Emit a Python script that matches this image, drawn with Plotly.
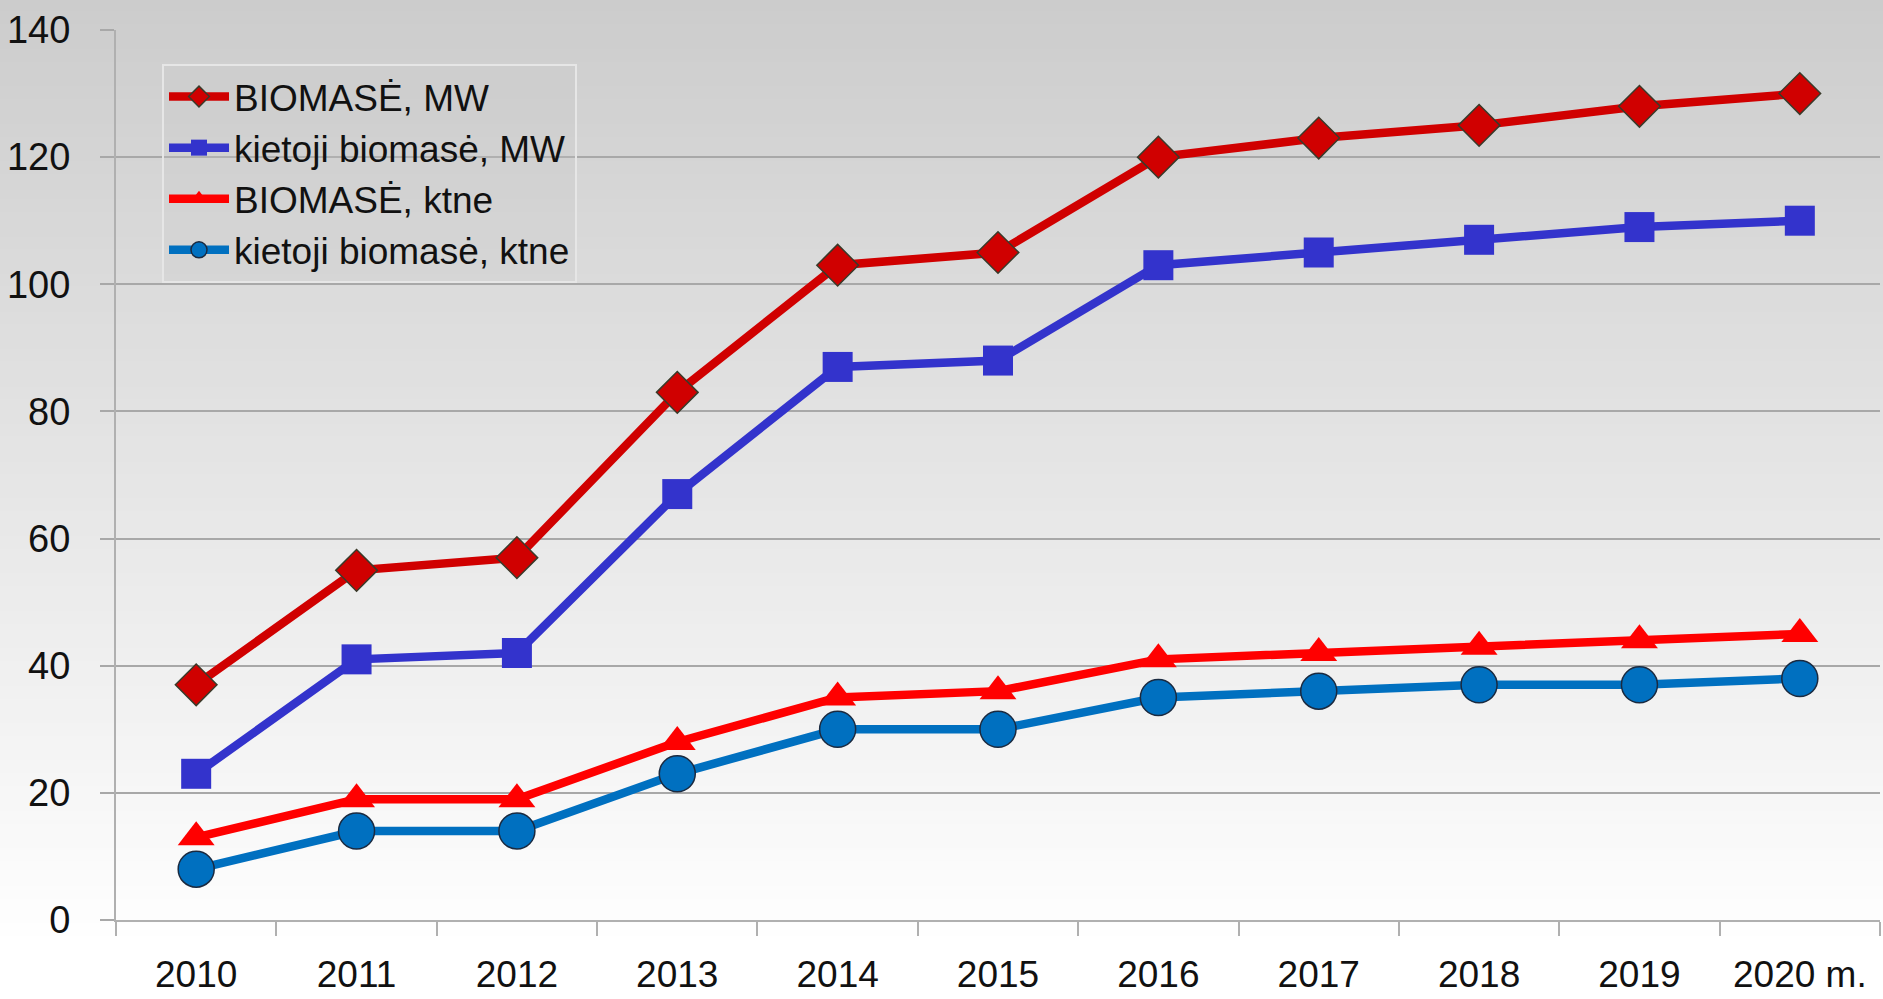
import plotly.graph_objects as go

years = ["2010", "2011", "2012", "2013", "2014", "2015", "2016", "2017", "2018", "2019", "2020"]
year_labels = ["2010", "2011", "2012", "2013", "2014", "2015", "2016", "2017", "2018", "2019", "2020 m."]

biomase_mw = [37, 55, 57, 83, 103, 105, 120, 123, 125, 128, 130]
kietoji_mw = [23, 41, 42, 67, 87, 88, 103, 105, 107, 109, 110]
biomase_ktne = [13, 19, 19, 28, 35, 36, 41, 42, 43, 44, 45]
kietoji_ktne = [8, 14, 14, 23, 30, 30, 35, 36, 37, 37, 38]

W, H = 1883, 999
ML, MR, MT, MB = 116, 3, 30, 79
pw, ph = W - ML - MR, H - MT - MB

fig = go.Figure()

series = [
    ("BIOMASĖ, MW", biomase_mw, "#d00000", "diamond", 32, dict(color="#3a3a2a", width=1.5)),
    ("kietoji biomasė, MW", kietoji_mw, "#3333cc", "square", 30, dict(color="#3333cc", width=0)),
    ("BIOMASĖ, ktne", biomase_ktne, "#ff0000", "triangle-up", 32, dict(color="#ff0000", width=0)),
    ("kietoji biomasė, ktne", kietoji_ktne, "#0070c0", "circle", 36, dict(color="#1a2a40", width=1.5)),
]
for i, (name, vals, col, sym, size, mline) in enumerate(series):
    fig.add_trace(go.Scatter(
        x=years, y=vals, name=name, mode="lines+markers",
        line=dict(color=col, width=8.5),
        marker=dict(symbol=sym, size=size, color=col, line=mline),
        legendgroup=f"g{i}",
    ))

# background gradient bands (grey top -> white bottom)
shapes = []
n = 80
for k in range(n):
    y_top_px = k * H / n
    y_bot_px = (k + 1) * H / n
    t = (k + 0.5) / n
    c = int(round(204 + (255 - 204) * min(1.0, t * 1.05)))
    shapes.append(dict(
        type="rect", xref="paper", yref="paper", layer="below",
        x0=-ML / pw - 0.01, x1=1 + MR / pw + 0.01,
        y0=1 - (y_bot_px - MT) / ph - 0.001, y1=1 - (y_top_px - MT) / ph + 0.001,
        fillcolor=f"rgb({c},{c},{c})", line=dict(width=0),
    ))

fig.update_layout(
    width=W, height=H,
    margin=dict(l=ML, r=MR, t=MT, b=MB, autoexpand=False),
    paper_bgcolor="#ffffff",
    plot_bgcolor="rgba(0,0,0,0)",
    shapes=shapes,
    font=dict(family="Liberation Sans, Arial, sans-serif", color="#111111"),
    legend=dict(
        x=(162 - ML) / pw, y=1 - (64 - MT) / ph, xanchor="left", yanchor="top",
        bgcolor="rgba(200,200,200,0.25)", bordercolor="#e6e6e6", borderwidth=2,
        font=dict(size=37, family="Liberation Sans, Arial, sans-serif", color="#111111"),
        tracegroupgap=0, itemwidth=60,
    ),
    showlegend=True,
)

fig.update_xaxes(
    type="category", tickmode="array", tickvals=years, ticktext=year_labels,
    tickson="boundaries", ticks="outside", ticklen=14, tickcolor="#b0b0b0", tickwidth=2,
    showline=True, linecolor="#b0b0b0", linewidth=2, showgrid=False,
    tickfont=dict(size=37, family="Liberation Sans Narrow, Arial Narrow, Liberation Sans, sans-serif", color="#111111"),
    ticklabelstandoff=21, automargin=False,
    range=[-0.5, 10.5], zeroline=False,
)
fig.update_yaxes(
    range=[0, 140], dtick=20, tick0=0,
    showgrid=True, gridcolor="#a8a8a8", gridwidth=1.5,
    ticks="outside", ticklen=14, tickcolor="#a8a8a8", tickwidth=1.5,
    showline=True, linecolor="#b0b0b0", linewidth=2, zeroline=False,
    tickfont=dict(size=38, family="Liberation Sans, Arial, sans-serif", color="#111111"),
    ticklabelstandoff=22, automargin=False,
)

fig.write_html(
    "out.html",
    config={"displayModeBar": False},
    post_script="document.body.style.margin='0';document.body.style.overflow='hidden';",
)
